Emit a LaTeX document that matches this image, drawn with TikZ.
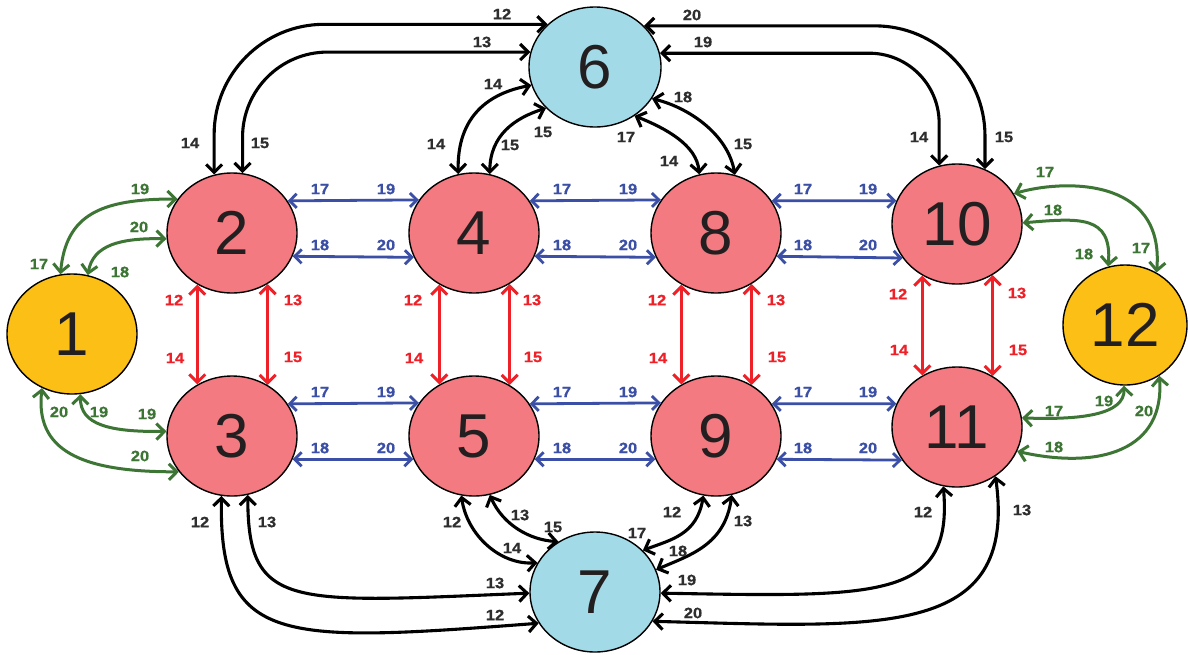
\documentclass[tikz,border=0pt]{standalone}
\usepackage{fontspec}
\setmainfont{Liberation Sans}
\newfontfamily\labfont{Liberation Sans Bold}[FakeStretch=1.1,FakeBold=0.6]
\usetikzlibrary{shapes.geometric,arrows.meta}
\definecolor{nred}{HTML}{F27A80}
\definecolor{nyel}{HTML}{FBBF15}
\definecolor{nblue}{HTML}{A2DBE7}
\definecolor{ared}{HTML}{EE2028}
\definecolor{ablue}{HTML}{3B4FA6}
\definecolor{agreen}{HTML}{3D7535}
\definecolor{lgray}{HTML}{2E2E2E}
\definecolor{ntext}{HTML}{231F20}
\begin{document}
\begin{tikzpicture}[x=1pt,y=-1pt,
  st/.style={ellipse, draw=black, line width=1.4pt, minimum width=130pt, minimum height=120pt,
    inner sep=0pt, text=ntext, font=\fontsize{62}{62}\selectfont},
  blkar/.style={{Straight Barb[length=8pt,width=16pt]}-{Straight Barb[length=8pt,width=16pt]}, line width=3.1pt, black},
  redar/.style={{Straight Barb[length=8pt,width=16pt]}-{Straight Barb[length=8pt,width=16pt]}, line width=3pt, ared},
  bluar/.style={{Straight Barb[length=7pt,width=14pt]}-{Straight Barb[length=7pt,width=14pt]}, line width=2.8pt, ablue},
  grar/.style={{Straight Barb[length=8pt,width=16pt]}-{Straight Barb[length=8pt,width=16pt]}, line width=3pt, agreen},
  lb/.style={inner sep=0pt, text=lgray, font=\labfont\fontsize{15}{15}\selectfont},
  lbr/.style={lb, text=ared},
  lbb/.style={lb, text=ablue},
  lbg/.style={lb, text=agreen}]
\useasboundingbox[fill=white] (0,0) rectangle (1188,654);

% nodes
\node[st, fill=nyel] (n1) at (72,334) {1};
\node[st, fill=nred] (n2) at (232,233) {2};
\node[st, fill=nred] (n3) at (232,436) {3};
\node[st, fill=nred] (n4) at (474,233) {4};
\node[st, fill=nred] (n5) at (474,436) {5};
\node[st, fill=nblue, minimum width=132pt] (n6) at (595,67) {6};
\node[st, fill=nblue] (n7) at (595,592) {7};
\node[st, fill=nred] (n8) at (716,233) {8};
\node[st, fill=nred] (n9) at (716,436) {9};
\node[st, fill=nred] (n10) at (957,224) {10};
\node[st, fill=nred] (n11) at (957,427) {11};
\node[st, fill=nyel, minimum width=124pt] (n12) at (1125,325) {12};

% red vertical arrows
\foreach \u/\d in {n2/n3,n4/n5,n8/n9,n10/n11}{
  \draw[redar] (\u.-124.7) -- (\d.124.7);
  \draw[redar] (\u.-55.3) -- (\d.55.3);
}

% blue horizontal arrows
\draw[bluar] (n2.30.2) -- (n4.149.8);
\draw[bluar] (n2.-21.9) -- (n4.-158.1);
\draw[bluar] (n4.30.2) -- (n8.149.8);
\draw[bluar] (n4.-21.9) -- (n8.-158.1);
\draw[bluar] (n8.30.2) -- (n10.159);
\draw[bluar] (n8.-21.9) -- (n10.-148.7);
\draw[bluar] (n3.30.2) -- (n5.149.8);
\draw[bluar] (n3.-21) -- (n5.-159);
\draw[bluar] (n5.30.2) -- (n9.149.8);
\draw[bluar] (n5.-21) -- (n9.-159);
\draw[bluar] (n9.30.2) -- (n11.159);
\draw[bluar] (n9.-21) -- (n11.-149.8);

% green arrows
\draw[grar] (n1.101.5) .. controls (66,215) and (100,199) .. (n2.148.3);
\draw[grar] (n1.75.3) .. controls (93,245) and (120,238) .. (n2.-175.6);
\draw[grar] (n1.-82.5) .. controls (80,425) and (110,432) .. (n3.176.6);
\draw[grar] (n1.-119.7) .. controls (35,450) and (80,472) .. (n3.-146.8);
\draw[grar] (n10.28.1) .. controls (1060,180) and (1165,175) .. (n12.59);
\draw[grar] (n10.1.7) .. controls (1080,218) and (1112,215) .. (n12.106.3);
\draw[grar] (n11.8.6) .. controls (1080,420) and (1125,415) .. (n12.-91);
\draw[grar] (n11.-22.1) .. controls (1100,470) and (1165,450) .. (n12.-56.1);

% black arrows
\draw[blkar, rounded corners=110pt] (n2.107.3) |- (n6.138.8);
\draw[blkar, rounded corners=85pt] (n2.80.7) |- (n6.167.4);
\draw[blkar] (n4.105.6) .. controls (457,115) and (490,93) .. (n6.-164.1);
\draw[blkar] (n4.75.3) .. controls (490,135) and (515,118) .. (n6.-140.2);
\draw[blkar] (n6.-51.6) .. controls (665,128) and (697,145) .. (n8.106.4);
\draw[blkar] (n6.-29.6) .. controls (690,108) and (728,135) .. (n8.72.2);
\draw[blkar, rounded corners=110pt] (n6.40) -| (n10.63);
\draw[blkar, rounded corners=70pt] (n6.12.6) -| (n10.107);
\draw[blkar] (n3.-100.9) .. controls (219,645) and (280,643) .. (n7.-151.1);
\draw[blkar] (n3.-75.5) .. controls (248,610) and (290,603) .. (n7.-179);
\draw[blkar] (n5.-102.5) .. controls (467,535) and (500,565) .. (n7.153.4);
\draw[blkar] (n5.-75.5) .. controls (503,525) and (530,540) .. (n7.126.5);
\draw[blkar] (n9.-102) .. controls (697,535) and (670,540) .. (n7.41.3);
\draw[blkar] (n9.-75.3) .. controls (725,545) and (690,555) .. (n7.20.8);
\draw[blkar] (n11.-103.4) .. controls (953,600) and (880,597) .. (n7.-1.7);
\draw[blkar] (n11.-52) .. controls (1018,640) and (880,627) .. (n7.-27.3);

% black labels
\node[lb] (k1) at (502,14) {12};
\node[lb] (k2) at (482,42) {13};
\node[lb] (k3) at (190,143) {14};
\node[lb] (k4) at (260,143) {15};
\node[lb] (k5) at (436,144) {14};
\node[lb] (k6) at (510,145) {15};
\node[lb] (k7) at (493,84) {14};
\node[lb] (k8) at (543,132) {15};
\node[lb] (k9) at (626,137) {17};
\node[lb] (k10) at (692,15) {20};
\node[lb] (k11) at (703,42) {19};
\node[lb] (k12) at (683,97) {18};
\node[lb] (k13) at (669,161) {14};
\node[lb] (k14) at (743,144) {15};
\node[lb] (k15) at (919,137) {14};
\node[lb] (k16) at (1004,137) {15};
\node[lb] (k17) at (200,522) {12};
\node[lb] (k18) at (267,522) {13};
\node[lb] (k19) at (452,522) {12};
\node[lb] (k20) at (520,515) {13};
\node[lb] (k21) at (512,548) {14};
\node[lb] (k22) at (495,583) {13};
\node[lb] (k23) at (495,615) {12};
\node[lb] (k24) at (553,527) {15};
\node[lb] (k25) at (637,533) {17};
\node[lb] (k26) at (672,512) {12};
\node[lb] (k27) at (743,521) {13};
\node[lb] (k28) at (678,551) {18};
\node[lb] (k29) at (687,580) {19};
\node[lb] (k30) at (693,613) {20};
\node[lb] (k31) at (923,512) {12};
\node[lb] (k32) at (1022,510) {13};

% red labels
\node[lbr] (r1) at (174,300) {12};
\node[lbr] (r2) at (175,358) {14};
\node[lbr] (r3) at (293,300) {13};
\node[lbr] (r4) at (293,357) {15};
\node[lbr] (r5) at (413,300) {12};
\node[lbr] (r6) at (414,358) {14};
\node[lbr] (r7) at (532,300) {13};
\node[lbr] (r8) at (533,357) {15};
\node[lbr] (r9) at (657,300) {12};
\node[lbr] (r10) at (658,358) {14};
\node[lbr] (r11) at (776,300) {13};
\node[lbr] (r12) at (777,357) {15};
\node[lbr] (r13) at (898,294) {12};
\node[lbr] (r14) at (899,350) {14};
\node[lbr] (r15) at (1017,293) {13};
\node[lbr] (r16) at (1018,350) {15};

% blue labels
\foreach \a/\b [count=\i] in {320/386,562/628,803/868}{
  \node[lbb] (bt\i a) at (\a,189) {17};
  \node[lbb] (bt\i b) at (\b,189) {19};
  \node[lbb] (bt\i c) at (\a,245) {18};
  \node[lbb] (bt\i d) at (\b,245) {20};
  \node[lbb] (bb\i a) at (\a,392) {17};
  \node[lbb] (bb\i b) at (\b,392) {19};
  \node[lbb] (bb\i c) at (\a,448) {18};
  \node[lbb] (bb\i d) at (\b,448) {20};
}

% green labels
\node[lbg] (g1) at (140,189) {19};
\node[lbg] (g2) at (139,227) {20};
\node[lbg] (g3) at (39,264) {17};
\node[lbg] (g4) at (120,272) {18};
\node[lbg] (g5) at (59,412) {20};
\node[lbg] (g6) at (99,412) {19};
\node[lbg] (g7) at (147,414) {19};
\node[lbg] (g8) at (140,456) {20};
\node[lbg] (g9) at (1045,172) {17};
\node[lbg] (g10) at (1053,210) {18};
\node[lbg] (g11) at (1084,254) {18};
\node[lbg] (g12) at (1141,248) {17};
\node[lbg] (g13) at (1104,401) {19};
\node[lbg] (g14) at (1054,411) {17};
\node[lbg] (g15) at (1144,411) {20};
\node[lbg] (g16) at (1054,447) {18};
\end{tikzpicture}
\end{document}
